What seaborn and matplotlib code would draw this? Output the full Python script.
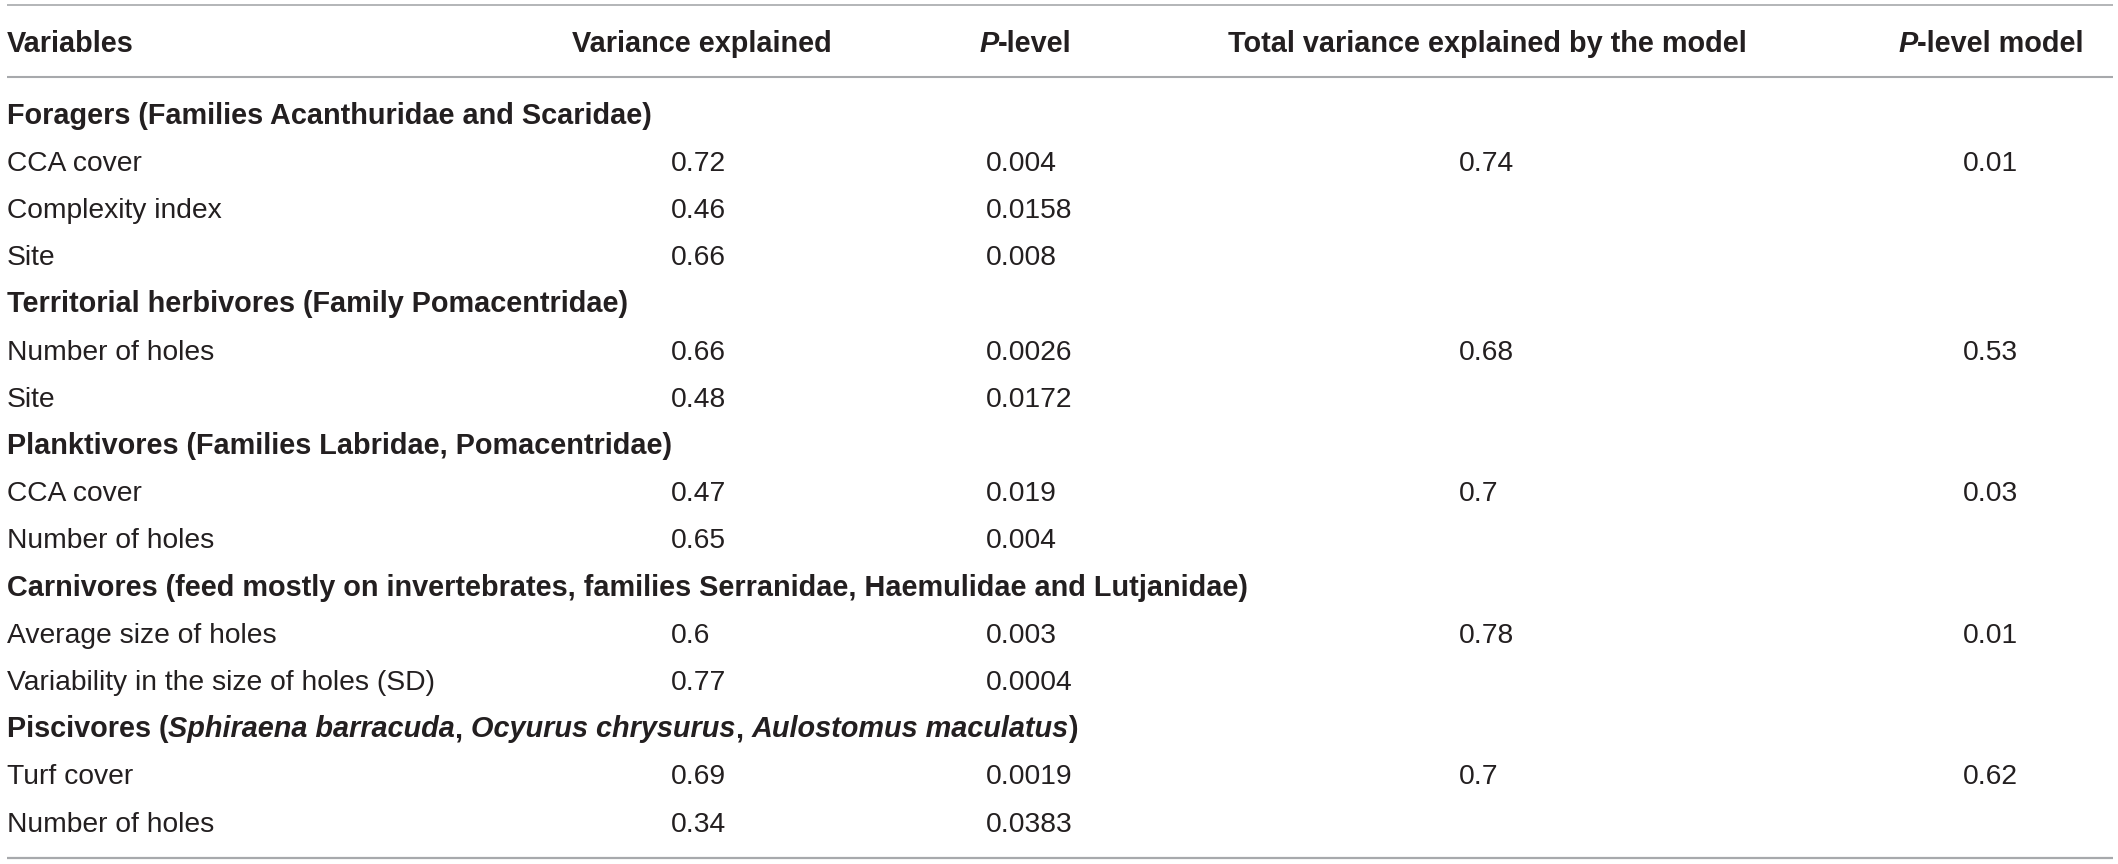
""" Table: variance explained per fish group """

import matplotlib
matplotlib.use('Agg')
import matplotlib.pyplot as plt
import seaborn as sns

# Table content
groups = [
    'Foragers (Families Acanthuridae and Scaridae)',
    'Territorial herbivores (Family Pomacentridae)',
    'Planktivores (Families Labridae, Pomacentridae)',
    'Carnivores (feed mostly on invertebrates, families Serranidae, Haemulidae and Lutjanidae)',
    'Piscivores',
]
# Piscivores title has italic species names: (text, italic)
piscivore_title = [
    ('Piscivores (', False),
    ('Sphiraena barracuda', True),
    (', ', False),
    ('Ocyurus chrysurus', True),
    (', ', False),
    ('Aulostomus maculatus', True),
    (')', False),
]
variables = [
    ['CCA cover', 'Complexity index', 'Site'],
    ['Number of holes', 'Site'],
    ['CCA cover', 'Number of holes'],
    ['Average size of holes', 'Variability in the size of holes (SD)'],
    ['Turf cover', 'Number of holes'],
]
variance_explained = [0.72, 0.46, 0.66, 0.66, 0.48, 0.47, 0.65, 0.6, 0.77, 0.69, 0.34]
p_level = [0.004, 0.0158, 0.008, 0.0026, 0.0172, 0.019, 0.004, 0.003, 0.0004, 0.0019, 0.0383]
total_variance = [0.74, 0.68, 0.7, 0.78, 0.7]
p_level_model = [0.01, 0.53, 0.03, 0.01, 0.62]

# Style
sns.set_style('white')
plt.rcParams['font.family'] = ['Liberation Sans', 'DejaVu Sans']
TEXT = '#231f20'
LINE = '#a7a9ac'
FS = 20.3      # regular text
FSB = 20.8     # bold text

W, H = 2118, 864
fig = plt.figure(figsize=(W / 100, H / 100), dpi=100)
ax = fig.add_axes([0, 0, 1, 1])
ax.set_xlim(0, W)
ax.set_ylim(H, 0)
ax.axis('off')

# column layout (pixels)
x_var = 7
x_cols = [671, 986, 1459, 1963]
y_head = 52
y_first = 123.5
step = 47.2


def chain(pieces, x, y):
    """Draw consecutive bold text pieces, some italic, on one baseline"""
    prev = None
    for s, it in pieces:
        style = 'italic' if it else 'normal'
        if prev is None:
            prev = ax.text(x, y, s, fontsize=FSB, fontweight='bold', style=style,
                           color=TEXT, ha='left', va='baseline')
        else:
            prev = ax.annotate(s, xy=(1, 0), xycoords=prev, fontsize=FSB,
                               fontweight='bold', style=style, color=TEXT,
                               ha='left', va='bottom')


# header
ax.text(x_var, y_head, 'Variables', fontsize=FSB, fontweight='bold', color=TEXT,
        ha='left', va='baseline')
ax.text(702, y_head, 'Variance explained', fontsize=FSB, fontweight='bold',
        color=TEXT, ha='center', va='baseline')
chain([('P', True), ('-level', False)], 979, y_head)
ax.text(1487, y_head, 'Total variance explained by the model', fontsize=FSB,
        fontweight='bold', color=TEXT, ha='center', va='baseline')
chain([('P', True), ('-level model', False)], 1898, y_head)

# body
row = 0
k = 0
for g, name in enumerate(groups):
    y = y_first + row * step
    if g == len(groups) - 1:
        chain(piscivore_title, x_var, y)
    else:
        ax.text(x_var, y, name, fontsize=FSB, fontweight='bold', color=TEXT,
                ha='left', va='baseline')
    row += 1
    for j, v in enumerate(variables[g]):
        y = y_first + row * step
        ax.text(x_var, y, v, fontsize=FS, color=TEXT, ha='left', va='baseline')
        ax.text(x_cols[0], y, str(variance_explained[k]), fontsize=FS,
                color=TEXT, ha='left', va='baseline')
        ax.text(x_cols[1], y, str(p_level[k]), fontsize=FS, color=TEXT,
                ha='left', va='baseline')
        if j == 0:
            ax.text(x_cols[2], y, str(total_variance[g]), fontsize=FS,
                    color=TEXT, ha='left', va='baseline')
            ax.text(x_cols[3], y, str(p_level_model[g]), fontsize=FS,
                    color=TEXT, ha='left', va='baseline')
        k += 1
        row += 1

# rules
ax.plot([7, 2113], [5, 5], color=LINE, lw=1.2, solid_capstyle='butt')
ax.plot([7, 2113], [77, 77], color=LINE, lw=1.5, solid_capstyle='butt')
ax.plot([7, 2113], [858, 858], color=LINE, lw=1.6, solid_capstyle='butt')

fig.savefig('out.png', dpi=100, facecolor='white')
plt.close(fig)
